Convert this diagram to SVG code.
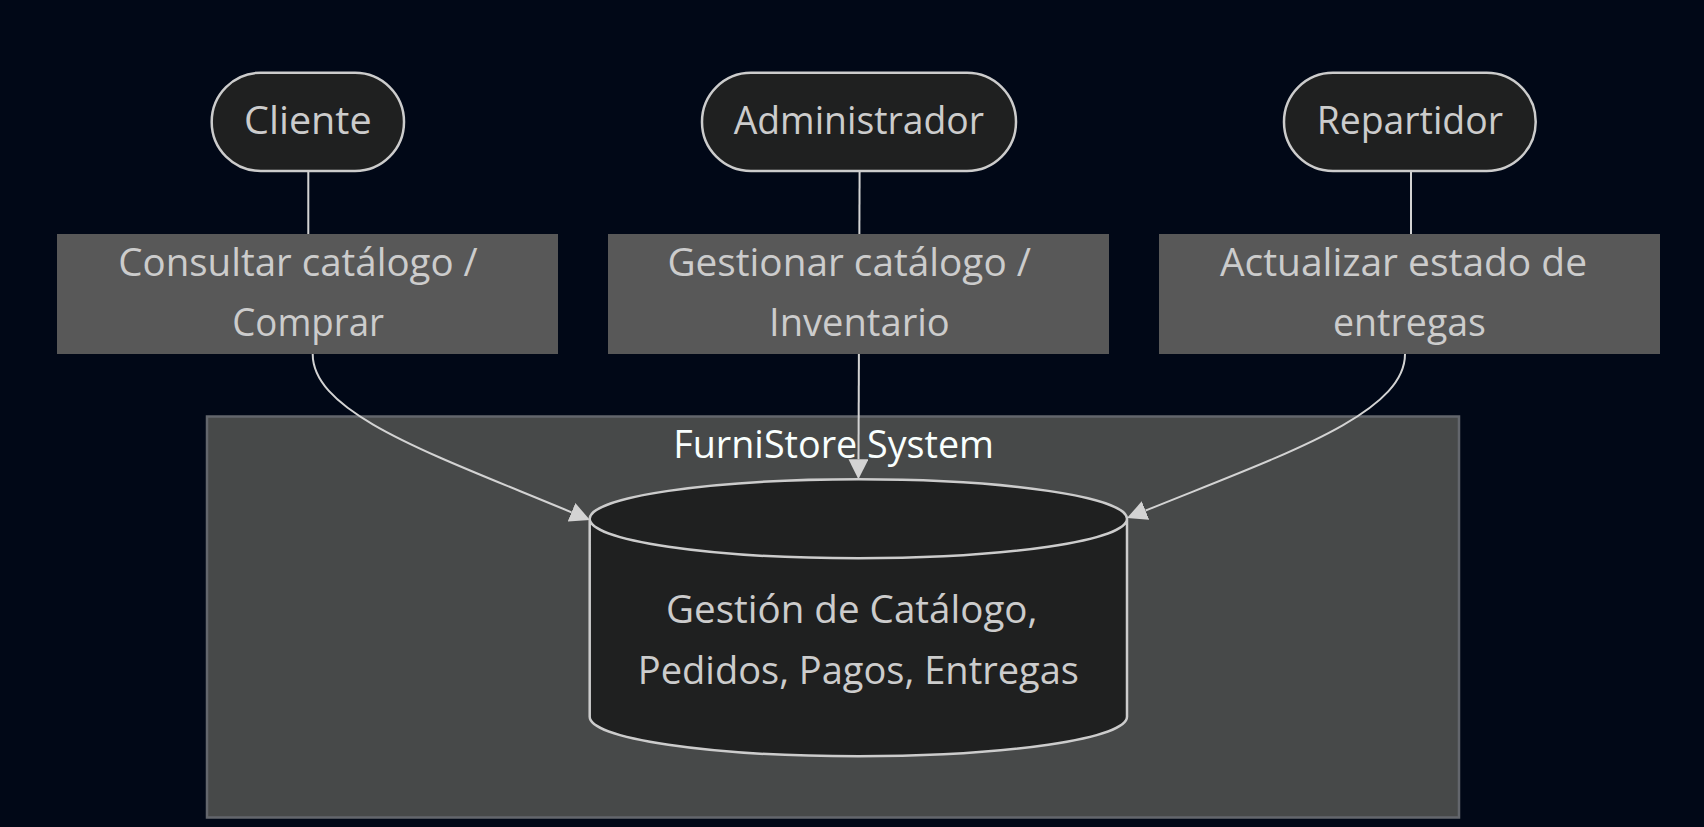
<svg xmlns="http://www.w3.org/2000/svg" width="1704" height="827" viewBox="0 0 1704 827">
<defs>
<style>
.bg{fill:#010817}
.cluster{fill:#474949;stroke:#63666c;stroke-width:2.5}
.ctitle{fill:#F9FFFE;font-family:"Open Sans","Noto Sans","DejaVu Sans",sans-serif;font-size:38px}
.node{fill:#1f2020;stroke:#cccccc;stroke-width:2.5}
.lbl{fill:#cccccc;font-family:"Open Sans","Noto Sans","DejaVu Sans",sans-serif;font-size:38px}
.elbl{fill:#585858}
.edge{fill:none;stroke:#d3d3d3;stroke-width:2}
</style>
<marker id="arrow" viewBox="0 0 10 10" refX="0" refY="5" markerWidth="20" markerHeight="20" markerUnits="userSpaceOnUse" orient="auto">
<path d="M0,0 L10,5 L0,10 z" fill="#d3d3d3"/>
</marker>
</defs>
<rect class="bg" x="0" y="0" width="1704" height="827"/>

<g id="cluster-furnistore">
<rect class="cluster" x="207" y="416.5" width="1252" height="401"/>
<text class="ctitle" x="673.3" y="457.7" textLength="320.7" lengthAdjust="spacingAndGlyphs">FurniStore System</text>
</g>

<g id="connectors">
<path class="edge" d="M308.3,171 V294 L312.7,354 C312.7,414 433,454.5 571.5,512.3" marker-end="url(#arrow)"/>
<path class="edge" d="M859.6,171 L858.5,459.3" marker-end="url(#arrow)"/>
<path class="edge" d="M1411,171 V294 L1405,354 C1405,414 1284,454.5 1145.5,510.6" marker-end="url(#arrow)"/>
</g>

<g id="label-cliente">
<rect class="elbl" x="57" y="234" width="501" height="120"/>
<text class="lbl" x="118.3" y="275.7" textLength="359.4" lengthAdjust="spacingAndGlyphs">Consultar catálogo /</text>
<text class="lbl" x="232.3" y="336" textLength="151.7" lengthAdjust="spacingAndGlyphs">Comprar</text>
</g>
<g id="label-admin">
<rect class="elbl" x="608" y="234" width="501" height="120"/>
<text class="lbl" x="667.4" y="275.7" textLength="363.6" lengthAdjust="spacingAndGlyphs">Gestionar catálogo /</text>
<text class="lbl" x="769" y="336" textLength="180.8" lengthAdjust="spacingAndGlyphs">Inventario</text>
</g>
<g id="label-repartidor">
<rect class="elbl" x="1159" y="234" width="501" height="120"/>
<text class="lbl" x="1220" y="275.7" textLength="367" lengthAdjust="spacingAndGlyphs">Actualizar estado de</text>
<text class="lbl" x="1333" y="336" textLength="153" lengthAdjust="spacingAndGlyphs">entregas</text>
</g>

<g id="node-cliente">
<rect class="node" x="211.7" y="72.7" width="192.3" height="98.3" rx="49" ry="49"/>
<text class="lbl" x="244" y="134" textLength="127.7" lengthAdjust="spacingAndGlyphs">Cliente</text>
</g>
<g id="node-administrador">
<rect class="node" x="702" y="72.7" width="314" height="98.3" rx="49" ry="49"/>
<text class="lbl" x="733.7" y="134" textLength="250.3" lengthAdjust="spacingAndGlyphs">Administrador</text>
</g>
<g id="node-repartidor">
<rect class="node" x="1284" y="72.7" width="251.7" height="98.3" rx="49" ry="49"/>
<text class="lbl" x="1316.7" y="134" textLength="186.3" lengthAdjust="spacingAndGlyphs">Repartidor</text>
</g>

<g id="node-system">
<path class="node" d="M589.7,518.8 a268.65,39.5 0 0 0 537.3,0 a268.65,39.5 0 0 0 -537.3,0 l0,198 a268.65,39.5 0 0 0 537.3,0 l0,-198"/>
<text class="lbl" x="666" y="623.3" textLength="371.5" lengthAdjust="spacingAndGlyphs">Gestión de Catálogo,</text>
<text class="lbl" x="637.8" y="684" textLength="441.2" lengthAdjust="spacingAndGlyphs">Pedidos, Pagos, Entregas</text>
</g>
</svg>
